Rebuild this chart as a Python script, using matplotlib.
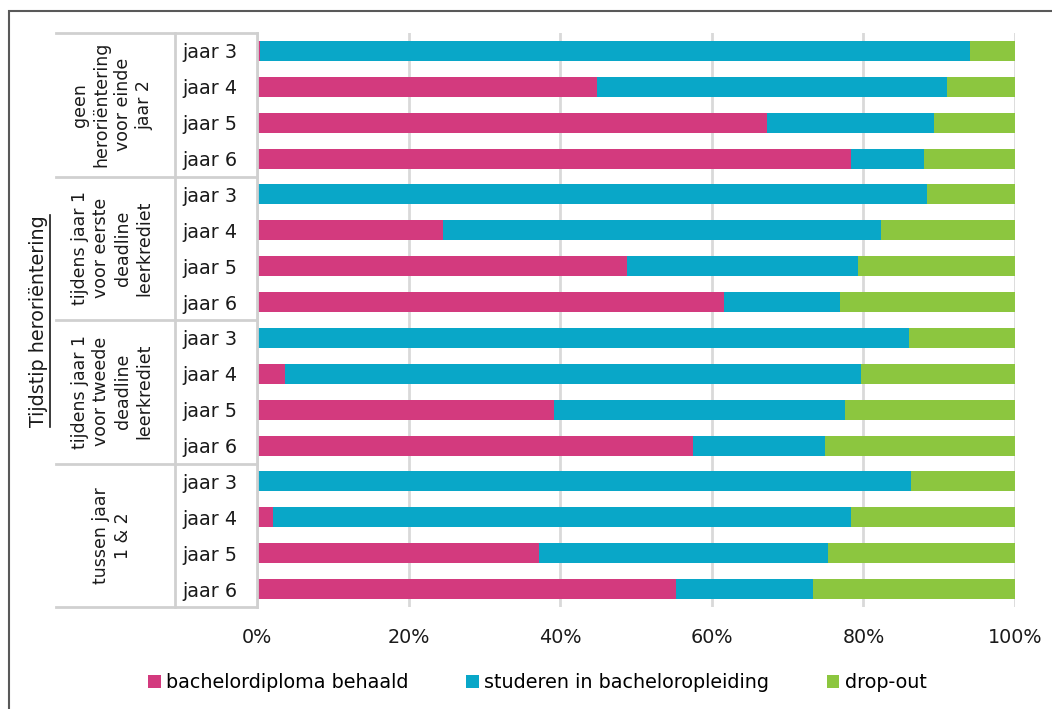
import matplotlib.pyplot as plt
import matplotlib.transforms as mtransforms
from matplotlib.lines import Line2D
from matplotlib.patches import Patch, Rectangle
import numpy as np

# -----------------------------
# Data (shares, %)
# -----------------------------
groups = [
    "geen\nheroriëntering\nvoor einde\njaar 2",
    "tijdens jaar 1\nvoor eerste\ndeadline\nleerkrediet",
    "tijdens jaar 1\nvoor tweede\ndeadline\nleerkrediet",
    "tussen jaar\n1 & 2",
]
years = ["jaar 3", "jaar 4", "jaar 5", "jaar 6"]

diploma = [0.4, 44.9, 67.3, 78.4,
           0.0, 24.5, 48.8, 61.6,
           0.0, 3.7, 39.2, 57.5,
           0.0, 2.1, 37.2, 55.3]
studeren = [93.7, 46.1, 22.0, 9.6,
            88.4, 57.8, 30.5, 15.3,
            86.0, 76.0, 38.4, 17.4,
            86.3, 76.3, 38.1, 18.1]
dropout = [100 - d - s for d, s in zip(diploma, studeren)]

series_names = ["bachelordiploma behaald", "studeren in bacheloropleiding", "drop-out"]
colors = ["#D33A7E", "#09A7C8", "#8CC63F"]

# -----------------------------
# Figure
# -----------------------------
plt.rcParams["font.family"] = ["DejaVu Sans"]
txt_col = "#1a1a1a"
fs = 13.8

W, H = 1052, 709
fig = plt.figure(figsize=(W / 100, H / 100), dpi=100)
ax = fig.add_axes([257 / W, 1 - 607 / H, (1015 - 257) / W, (607 - 33) / H])

n = len(diploma)
y = np.arange(n)
left = np.zeros(n)
for vals, col, name in zip([diploma, studeren, dropout], colors, series_names):
    ax.barh(y, vals, left=left, height=0.56, color=col, label=name, zorder=3)
    left += np.array(vals)

ax.set_xlim(0, 100)
ax.set_ylim(n - 0.5, -0.5)
ax.set_xticks(np.arange(0, 101, 20))
ax.set_xticklabels([f"{v}%" for v in range(0, 101, 20)])
ax.set_yticks(y)
ax.set_yticklabels(years * len(groups))
ax.tick_params(axis="both", length=0, labelsize=fs, colors=txt_col)
ax.tick_params(axis="x", pad=15)
ax.tick_params(axis="y", pad=14)
ax.grid(axis="x", color="#D9D9D9", linewidth=2, zorder=0)
ax.yaxis.grid(False)
for s in ax.spines.values():
    s.set_visible(False)

# -----------------------------
# Category table on the left
# -----------------------------
tr = mtransforms.blended_transform_factory(fig.transFigure, ax.transData)
line_kw = dict(color="#D0D0D0", linewidth=2, transform=tr, clip_on=False)
for b in [-0.5, 3.5, 7.5, 11.5, 15.5]:
    fig.add_artist(Line2D([56 / W, 257 / W], [b, b], **line_kw))
fig.add_artist(Line2D([175 / W, 175 / W], [-0.5, 15.5], **line_kw))
fig.add_artist(Line2D([257 / W, 257 / W], [-0.5, 15.5], **line_kw))

for i, g in enumerate(groups):
    fig.text(112 / W, 4 * i + 1.5, g, transform=tr, rotation=90,
             ha="center", va="center", multialignment="center",
             fontsize=12.5, linespacing=1.25, color=txt_col)

# outer title, underlined
t = fig.text(39 / W, 1 - 321 / H, "Tijdstip heroriëntering", rotation=90,
             ha="center", va="center", fontsize=fs, color=txt_col)
fig.canvas.draw()
bb = t.get_window_extent(renderer=fig.canvas.get_renderer())
ux = (bb.x1 + 1) / W
fig.add_artist(Line2D([ux, ux], [bb.y0 / H, bb.y1 / H], color=txt_col,
                      linewidth=1.2, transform=fig.transFigure))

# frame around the figure
fig.add_artist(Rectangle((9 / W, -0.05), 1.0, 1 - 11 / H + 0.05,
                         transform=fig.transFigure, fill=False,
                         edgecolor="#595959", linewidth=1.5))

# -----------------------------
# Legend
# -----------------------------
handles = [Patch(facecolor=c, edgecolor="none") for c in colors]
fig.legend(handles, series_names, loc="center", bbox_to_anchor=(0.511, 1 - 683 / H),
           ncol=3, frameon=False, fontsize=fs, handlelength=0.65,
           handleheight=0.65, handletextpad=0.3, columnspacing=3.0)

fig.savefig("out.png", dpi=100)
